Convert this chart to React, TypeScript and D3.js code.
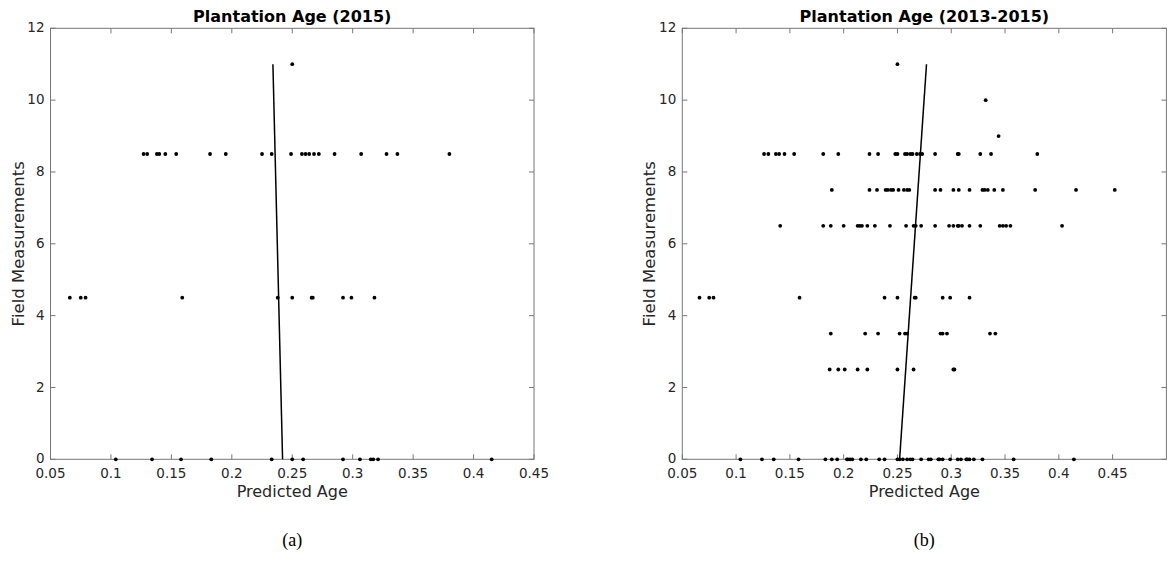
import React, { useEffect, useRef } from 'react';
import * as d3 from 'd3';

// Panel (a): Plantation Age (2015)
const levelsA = [11, 8.5, 4.5, 0];
const predictedA = [
  [0.25],
  [0.127, 0.13, 0.138, 0.14, 0.145, 0.154, 0.182, 0.195, 0.225, 0.233, 0.249, 0.258, 0.261, 0.264, 0.268, 0.272, 0.285, 0.307, 0.328, 0.337, 0.38],
  [0.066, 0.075, 0.079, 0.159, 0.238, 0.25, 0.266, 0.267, 0.292, 0.299, 0.318],
  [0.104, 0.134, 0.158, 0.183, 0.233, 0.25, 0.259, 0.292, 0.306, 0.315, 0.317, 0.321, 0.415],
];
const fitAgeA = [0.234, 0.242];
const fitFieldA = [11, 0];

// Panel (b): Plantation Age (2013-2015)
const levelsB = [11, 10, 9, 8.5, 7.5, 6.5, 4.5, 3.5, 2.5, 0];
const predictedB = [
  [0.25],
  [0.332],
  [0.344],
  [0.126, 0.13, 0.137, 0.14, 0.145, 0.154, 0.181, 0.195, 0.224, 0.232, 0.248, 0.25, 0.257, 0.259, 0.262, 0.264, 0.268, 0.271, 0.273, 0.285, 0.306, 0.307, 0.327, 0.337, 0.38],
  [0.189, 0.224, 0.231, 0.239, 0.241, 0.244, 0.246, 0.251, 0.256, 0.259, 0.261, 0.285, 0.29, 0.302, 0.307, 0.317, 0.329, 0.331, 0.334, 0.34, 0.348, 0.378, 0.416, 0.452],
  [0.141, 0.181, 0.188, 0.2, 0.213, 0.215, 0.217, 0.222, 0.229, 0.243, 0.258, 0.265, 0.267, 0.272, 0.285, 0.298, 0.302, 0.306, 0.307, 0.31, 0.317, 0.327, 0.345, 0.348, 0.351, 0.355, 0.403],
  [0.066, 0.075, 0.079, 0.159, 0.238, 0.25, 0.266, 0.267, 0.292, 0.299, 0.317],
  [0.188, 0.22, 0.232, 0.252, 0.257, 0.259, 0.29, 0.292, 0.296, 0.336, 0.341],
  [0.187, 0.195, 0.201, 0.213, 0.222, 0.25, 0.265, 0.302, 0.303],
  [0.104, 0.124, 0.135, 0.158, 0.183, 0.189, 0.194, 0.203, 0.204, 0.206, 0.208, 0.216, 0.221, 0.233, 0.238, 0.25, 0.252, 0.255, 0.259, 0.262, 0.264, 0.272, 0.279, 0.281, 0.288, 0.289, 0.292, 0.299, 0.306, 0.309, 0.314, 0.315, 0.317, 0.321, 0.329, 0.358, 0.414],
];
const fitAgeB = [0.252, 0.277];
const fitFieldB = [0, 11];

const xTicks = [0.05, 0.1, 0.15, 0.2, 0.25, 0.3, 0.35, 0.4, 0.45];
const yTicks = [0, 2, 4, 6, 8, 10, 12];

const panels = [
  { title: 'Plantation Age (2015)', caption: '(a)', xMax: 0.45, levels: levelsA, predicted: predictedA, fitAge: fitAgeA, fitField: fitFieldA, left: 50.5, right: 534 },
  { title: 'Plantation Age (2013-2015)', caption: '(b)', xMax: 0.5, levels: levelsB, predicted: predictedB, fitAge: fitAgeB, fitField: fitFieldB, left: 682.3, right: 1166.4 },
];

const top = 28.3;
const bottom = 459.3;
const axisColor = '#777';
const textColor = '#262626';
const font = '"DejaVu Sans", sans-serif';

export default function App() {
  const ref = useRef<SVGSVGElement>(null);

  useEffect(() => {
    const svg = d3.select(ref.current);
    svg.selectAll('*').remove();

    panels.forEach(p => {
      const x = d3.scaleLinear().domain([0.05, p.xMax]).range([p.left, p.right]);
      const y = d3.scaleLinear().domain([0, 12]).range([bottom, top]);
      const g = svg.append('g');
      const cx = (p.left + p.right) / 2;

      // box
      g.append('rect')
        .attr('x', p.left).attr('y', top)
        .attr('width', p.right - p.left).attr('height', bottom - top)
        .attr('fill', 'none').attr('stroke', axisColor).attr('stroke-width', 1);

      // inward ticks on all sides
      const tickLen = 5;
      xTicks.forEach(t => {
        g.append('line').attr('x1', x(t)).attr('x2', x(t)).attr('y1', bottom).attr('y2', bottom - tickLen).attr('stroke', axisColor);
        g.append('line').attr('x1', x(t)).attr('x2', x(t)).attr('y1', top).attr('y2', top + tickLen).attr('stroke', axisColor);
        g.append('text')
          .attr('x', x(t)).attr('y', bottom + 19)
          .attr('text-anchor', 'middle')
          .attr('font-family', font).attr('font-size', 13.5).attr('fill', textColor)
          .text(String(t));
      });
      yTicks.forEach(t => {
        g.append('line').attr('x1', p.left).attr('x2', p.left + tickLen).attr('y1', y(t)).attr('y2', y(t)).attr('stroke', axisColor);
        g.append('line').attr('x1', p.right).attr('x2', p.right - tickLen).attr('y1', y(t)).attr('y2', y(t)).attr('stroke', axisColor);
        g.append('text')
          .attr('x', p.left - 6).attr('y', y(t)).attr('dy', '0.3em')
          .attr('text-anchor', 'end')
          .attr('font-family', font).attr('font-size', 13.5).attr('fill', textColor)
          .text(String(t));
      });

      // points
      const pts = p.levels.flatMap((lv, i) => p.predicted[i].map(a => ({ a, lv })));
      g.selectAll('circle.pt')
        .data(pts)
        .enter()
        .append('circle')
        .attr('class', 'pt')
        .attr('cx', d => x(d.a))
        .attr('cy', d => y(d.lv))
        .attr('r', 1.9)
        .attr('fill', '#000');

      // fitted line
      const line = d3.line<number>()
        .x((_, i) => x(p.fitAge[i]))
        .y(d => y(d));
      g.append('path')
        .datum(p.fitField)
        .attr('d', line)
        .attr('fill', 'none')
        .attr('stroke', '#000')
        .attr('stroke-width', 1.5);

      // labels
      g.append('text')
        .attr('x', cx).attr('y', 22)
        .attr('text-anchor', 'middle')
        .attr('font-family', font).attr('font-size', 16).attr('font-weight', 'bold').attr('fill', '#000')
        .text(p.title);

      g.append('text')
        .attr('x', cx).attr('y', 497)
        .attr('text-anchor', 'middle')
        .attr('font-family', font).attr('font-size', 16).attr('fill', textColor)
        .text('Predicted Age');

      g.append('text')
        .attr('transform', `translate(${p.left - 27},${(top + bottom) / 2}) rotate(-90)`)
        .attr('text-anchor', 'middle')
        .attr('font-family', font).attr('font-size', 16.5).attr('fill', textColor)
        .text('Field Measurements');

      g.append('text')
        .attr('x', cx).attr('y', 546)
        .attr('text-anchor', 'middle')
        .attr('font-family', '"Liberation Serif", "Times New Roman", serif').attr('font-size', 18).attr('fill', '#000')
        .text(p.caption);
    });
  }, []);

  return (
    <svg
      ref={ref}
      width={1176}
      height={567}
      style={{ position: 'absolute', left: 0, top: 0, background: '#fff' }}
    />
  );
}
